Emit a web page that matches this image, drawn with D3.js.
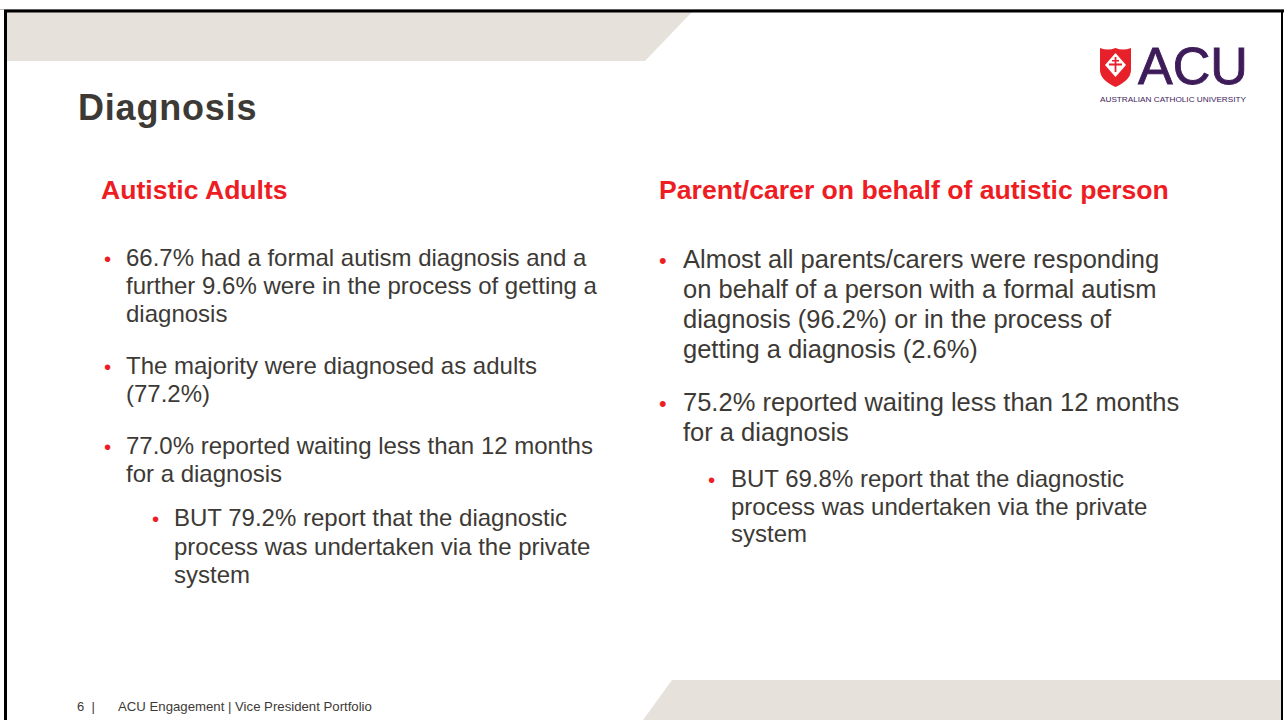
<!DOCTYPE html>
<html>
<head>
<meta charset="utf-8">
<script src="https://cdn.jsdelivr.net/npm/d3@7/dist/d3.min.js"></script>
<style>
  body { margin: 0; background: #fff; }
  svg { display: block; font-family: "Liberation Sans", Arial, sans-serif; }
</style>
</head>
<body>
<div id="slide"></div>
<script>
// slide text
var title = "Diagnosis";
var headings = ["Autistic Adults", "Parent/carer on behalf of autistic person"];

var leftBullets = [
    { level: 0, lines: ["66.7% had a formal autism diagnosis and a", "further 9.6% were in the process of getting a", "diagnosis"] },
    { level: 0, lines: ["The majority were diagnosed as adults", "(77.2%)"] },
    { level: 0, lines: ["77.0% reported waiting less than 12 months", "for a diagnosis"] },
    { level: 1, lines: ["BUT 79.2% report that the diagnostic", "process was undertaken via the private", "system"] }
];

var rightBullets = [
    { level: 0, lines: ["Almost all parents/carers were responding", "on behalf of a person with a formal autism", "diagnosis (96.2%) or in the process of", "getting a diagnosis (2.6%)"] },
    { level: 0, lines: ["75.2% reported waiting less than 12 months", "for a diagnosis"] },
    { level: 1, lines: ["BUT 69.8% report that the diagnostic", "process was undertaken via the private", "system"] }
];

var footerPage = "6  |";
var footerText = "ACU Engagement | Vice President Portfolio";
var logoText = "ACU";
var logoSub = "AUSTRALIAN CATHOLIC UNIVERSITY";

// colours
var red = "#ee1d23";
var grey = "#3d3a36";
var beige = "#e6e2db";
var purple = "#3e1c5a";

var w = 1284, h = 720;

var svg = d3.select("#slide")
    .append("svg")
    .attr("width", w)
    .attr("height", h);

// top and bottom beige bands
svg.append("path")
    .attr("d", "M7,12 L692,12 L645,61 L7,61 Z")
    .attr("fill", beige);
svg.append("path")
    .attr("d", "M672,680 L1281,680 L1281,720 L643,720 Z")
    .attr("fill", beige);

// slide frame
svg.append("line").attr("x1", 0).attr("x2", w).attr("y1", 9.5).attr("y2", 9.5)
    .attr("stroke", "#bbb").attr("stroke-width", 1);
svg.append("line").attr("x1", 4).attr("x2", 1284).attr("y1", 11).attr("y2", 11)
    .attr("stroke", "#000").attr("stroke-width", 3);
svg.append("line").attr("x1", 5.5).attr("x2", 5.5).attr("y1", 10).attr("y2", h)
    .attr("stroke", "#000").attr("stroke-width", 3);
svg.append("line").attr("x1", 1282).attr("x2", 1282).attr("y1", 10).attr("y2", h)
    .attr("stroke", "#000").attr("stroke-width", 2);

// title
svg.append("text")
    .attr("x", 78).attr("y", 120)
    .attr("font-size", 36).attr("font-weight", "bold")
    .attr("letter-spacing", 0.8)
    .attr("fill", grey)
    .text(title);

// logo
var logo = svg.append("g").attr("class", "logo");
logo.append("path")
    .attr("d", "M1100,48 Q1108,51 1115.5,48 Q1123,51 1131,48 L1131,70 Q1131,80 1115.5,87 Q1100,80 1100,70 Z")
    .attr("fill", "#e8202a");
logo.append("path")
    .attr("d", "M1115.5,53 L1126,65 L1115.5,77 L1105,65 Z")
    .attr("fill", "#fff");
logo.append("path")
    .attr("d", "M1114.6,57 h1.8 v15 h-1.8 Z M1109,63.6 h13 v1.8 h-13 Z M1112,60 h7 v1.4 h-7 Z")
    .attr("fill", "#e8202a");
logo.append("text")
    .attr("x", 1138).attr("y", 83.5)
    .attr("font-size", 52)
    .attr("fill", purple)
    .attr("stroke", purple).attr("stroke-width", 0.9)
    .text(logoText);
logo.append("text")
    .attr("x", 1100).attr("y", 102)
    .attr("font-size", 7.5)
    .attr("textLength", 146).attr("lengthAdjust", "spacingAndGlyphs")
    .attr("fill", purple)
    .text(logoSub);

// column headings
var headingX = [101, 659];
svg.selectAll("text.heading")
    .data(headings)
    .enter()
    .append("text")
    .attr("class", "heading")
    .attr("x", function (d, i) { return headingX[i]; })
    .attr("y", 199)
    .attr("font-size", 26.6).attr("font-weight", "bold")
    .attr("fill", red)
    .text(function (d) { return d; });

// bullet list drawer
function drawBullets(items, cfg) {
    var g = svg.append("g");
    var y = cfg.top;
    items.forEach(function (item, i) {
        var lv = cfg.levels[item.level];
        if (i > 0) y += lv.gap;
        g.append("text")
            .attr("x", lv.dotX).attr("y", y)
            .attr("font-size", lv.size * 0.85)
            .attr("fill", red)
            .text("\u2022");
        var t = g.append("text")
            .attr("x", lv.textX).attr("y", y)
            .attr("font-size", lv.size)
            .attr("fill", grey);
        t.selectAll("tspan")
            .data(item.lines)
            .enter()
            .append("tspan")
            .attr("x", lv.textX)
            .attr("dy", function (d, j) { return j === 0 ? 0 : lv.lh; })
            .text(function (d) { return d; });
        y += lv.lh * item.lines.length;
    });
}

drawBullets(leftBullets, {
    top: 266,
    levels: [
        { dotX: 104, textX: 126, size: 24, lh: 28, gap: 24 },
        { dotX: 152, textX: 174, size: 24, lh: 28.5, gap: 16 }
    ]
});

drawBullets(rightBullets, {
    top: 268,
    levels: [
        { dotX: 659, textX: 683, size: 25.5, lh: 30, gap: 23 },
        { dotX: 708, textX: 731, size: 24, lh: 27.5, gap: 16 }
    ]
});

// footer
svg.append("text")
    .attr("x", 77).attr("y", 711)
    .attr("font-size", 13)
    .attr("fill", grey)
    .attr("xml:space", "preserve")
    .text(footerPage);
svg.append("text")
    .attr("x", 118).attr("y", 711)
    .attr("font-size", 13.2)
    .attr("fill", grey)
    .text(footerText);
</script>
</body>
</html>
